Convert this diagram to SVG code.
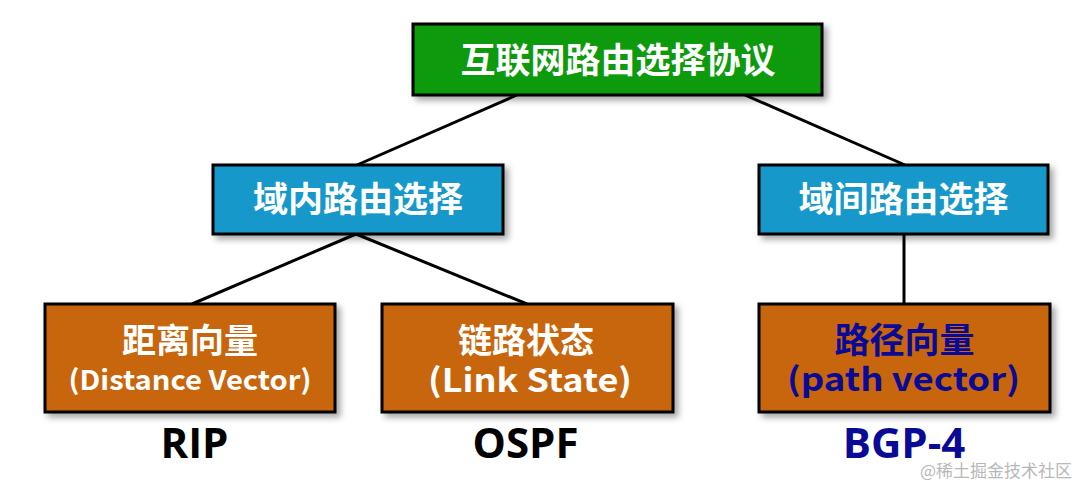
<svg xmlns="http://www.w3.org/2000/svg" width="1083" height="485" viewBox="0 0 1083 485">
<defs>
<filter id="sh" x="-10%" y="-10%" width="130%" height="140%">
<feDropShadow dx="4" dy="4" stdDeviation="3" flood-color="#000" flood-opacity="0.35"/>
</filter>
<style>
.box{stroke:#000;stroke-width:3;filter:url(#sh)}
.g{fill:#079A07}.b{fill:#1299CA}.o{fill:#C8660A}
.cn{font-family:"Noto Sans CJK SC",sans-serif;font-weight:bold;text-anchor:middle}
.sub{font-family:"Noto Sans CJK SC","Open Sans",sans-serif;font-weight:bold;text-anchor:middle}
.en{font-family:"Open Sans","Noto Sans CJK SC",sans-serif;font-weight:bold;text-anchor:middle}
.w{fill:#fff}.nv{fill:#0A0A96}.k{fill:#000}
.ln{stroke:#000;stroke-width:3;fill:none}
</style>
</defs>
<g id="connectors">
<line class="ln" x1="517" y1="95" x2="357" y2="165"/>
<line class="ln" x1="745" y1="95" x2="905" y2="165"/>
<line class="ln" x1="356" y1="234" x2="192" y2="304"/>
<line class="ln" x1="356" y1="234" x2="527" y2="304"/>
<line class="ln" x1="904" y1="234" x2="904" y2="304"/>
</g>
<g id="root">
<rect class="box g" x="413" y="24" width="409" height="71"/>
<text class="cn w" x="618" y="73" font-size="35">互联网路由选择协议</text>
</g>
<g id="intra">
<rect class="box b" x="213" y="165" width="290" height="69"/>
<text class="cn w" x="358" y="212" font-size="35">域内路由选择</text>
</g>
<g id="inter">
<rect class="box b" x="759" y="165" width="289" height="69"/>
<text class="cn w" x="903.5" y="212" font-size="35">域间路由选择</text>
</g>
<g id="dv">
<rect class="box o" x="45" y="304" width="290" height="108"/>
<text class="cn w" x="190" y="353" font-size="34">距离向量</text>
<text class="sub w" x="190" y="390" font-size="27" textLength="243" lengthAdjust="spacingAndGlyphs">(Distance Vector)</text>
</g>
<g id="ls">
<rect class="box o" x="382" y="304" width="291" height="108"/>
<text class="cn w" x="526" y="353" font-size="34">链路状态</text>
<text class="sub w" x="530" y="392" font-size="32" textLength="204" lengthAdjust="spacingAndGlyphs">(Link State)</text>
</g>
<g id="pv">
<rect class="box o" x="759" y="304" width="291" height="108"/>
<text class="cn nv" x="904.5" y="353" font-size="35">路径向量</text>
<text class="sub nv" x="903.5" y="391" font-size="32" textLength="233" lengthAdjust="spacingAndGlyphs">(path vector)</text>
</g>
<g id="labels">
<text class="en k" x="194.5" y="458" font-size="42">RIP</text>
<text class="en k" x="525.5" y="458" font-size="42">OSPF</text>
<text class="en nv" x="904" y="458" font-size="42">BGP-4</text>
</g>
<text x="996" y="477" font-family="'Noto Sans CJK SC',sans-serif" font-size="17" fill="#b8b8b8" text-anchor="middle">@稀土掘金技术社区</text>
</svg>
